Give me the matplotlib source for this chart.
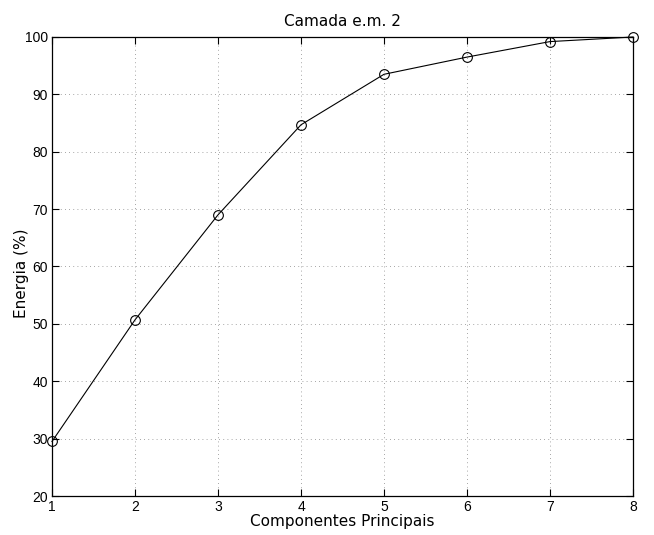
import matplotlib
matplotlib.use('Agg')
import matplotlib.pyplot as plt

# energia acumulada por número de componentes
componentes = [1, 2, 3, 4, 5, 6, 7, 8]
energia = [29.5, 50.7, 69.0, 84.7, 93.5, 96.5, 99.2, 100.0]

fig = plt.figure(figsize=(6.54, 5.35), dpi=100)
ax = fig.add_axes([52/654, 1 - 496/535, 581/654, 459/535])

ax.plot(componentes, energia, color='black', lw=0.8, marker='o', ms=7,
        mfc='none', mec='black', mew=0.8, clip_on=False, zorder=3)

ax.set_xlim(1, 8)
ax.set_ylim(20, 100)
ax.set_xticks(range(1, 9))
ax.set_yticks(range(20, 101, 10))
ax.grid(True, ls=(0, (1, 4)), color='#888888', lw=0.6)
ax.tick_params(direction='in', top=True, right=True, length=5, width=0.8,
               labelsize=10, pad=3)
for lab in ax.get_xticklabels() + ax.get_yticklabels():
    lab.set_family('Liberation Sans')
for s in ax.spines.values():
    s.set_linewidth(0.9)

ax.set_title('Camada e.m. 2', fontsize=11, pad=8)
ax.set_xlabel('Componentes Principais', fontsize=11)
ax.set_ylabel('Energia (%)', fontsize=11)
ax.xaxis.set_label_coords(0.5, -0.04)
ax.xaxis.label.set_va('top')
ax.yaxis.set_label_coords(-0.052, 0.486)
ax.yaxis.label.set_va('center')

fig.savefig('out.png', dpi=100)
